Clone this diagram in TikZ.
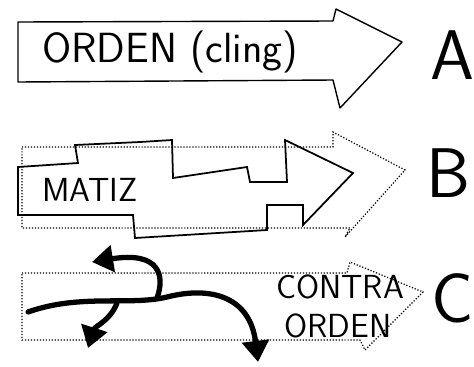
\documentclass[tikz,border=0pt]{standalone}
\usepackage{tikz}
\usetikzlibrary{positioning,arrows.meta}

\begin{document}
\begin{tikzpicture}[
    outlineArrow/.style={draw=black, line width=0.8pt, line join=round},
    ghostArrow/.style={draw=black, densely dotted, line width=0.7pt},
    jaggedArrow/.style={draw=black, line width=1pt},
    sketchText/.style={font=\sffamily, inner sep=0pt},
    rowLetter/.style={font=\sffamily\fontsize{40}{40}\selectfont, inner sep=0pt},
    thickArrow/.style={-{Triangle[length=12pt,width=15pt]}, line width=3pt, line cap=round}
]
    \useasboundingbox (0,0) rectangle (9.48,7.32);

    % row A
    \draw[outlineArrow] (0.36,6.88) -- (6.66,6.90) -- (6.72,7.14) -- (8.04,6.48)
        -- (6.80,5.16) -- (6.66,5.72) -- (0.36,5.68) -- cycle;
    \node[sketchText, font=\sffamily\fontsize{24}{24}\selectfont] (orderText) at (3.4,6.28) {ORDEN (cling)};
    \node[rowLetter] (letterA) at (9.05,6.22) {A};

    % row B
    \draw[ghostArrow] (0.44,4.38) -- (6.66,4.38) -- (6.66,4.68) -- (8.10,3.92)
        -- (6.90,2.58) -- (7.00,2.76) -- (0.44,2.76) -- cycle;
    \draw[jaggedArrow] (0.36,3.98) -- (0.36,3.02) -- (2.66,3.02) -- (2.70,2.56) -- (5.34,2.72)
        -- (5.34,3.22) -- (6.06,3.22) -- (6.06,2.82) -- (7.06,3.86) -- (5.70,4.52) -- (5.74,3.68)
        -- (5.00,3.68) -- (4.94,3.98) -- (3.46,3.76) -- (3.44,4.52) -- (2.80,4.48) -- (1.50,4.42)
        -- (1.56,4.06) -- cycle;
    \node[sketchText, font=\sffamily\fontsize{19}{19}\selectfont] (nuanceText) at (1.8,3.52) {MATIZ};
    \node[rowLetter] (letterB) at (8.96,3.86) {B};

    % row C
    \draw[ghostArrow] (0.44,1.86) -- (6.94,1.86) -- (7.00,2.08) -- (8.46,1.48)
        -- (7.30,0.32) -- (7.20,0.52) -- (0.44,0.52) -- cycle;
    \node[sketchText, font=\sffamily\fontsize{19}{19}\selectfont] (counterTop) at (6.8,1.58) {CONTRA};
    \node[sketchText, font=\sffamily\fontsize{19}{19}\selectfont] (counterBottom) at (6.76,0.8) {ORDEN};
    \node[rowLetter] (letterC) at (9.06,1.36) {C};

    \coordinate (crossStart) at (0.56,1.08);
    \coordinate (loopStart) at (3.14,1.36);
    \coordinate (forkStart) at (2.34,1.26);
    \coordinate (loopEnd) at (1.84,2.08);
    \coordinate (forkEnd) at (1.76,0.36);
    \coordinate (crossEnd) at (5.16,0.08);

    \draw[thickArrow] (crossStart) .. controls (1.6,1.45) and (2.6,1.2) .. (3.34,1.38)
        .. controls (4.2,1.6) and (5.0,1.4) .. (crossEnd);
    \draw[thickArrow] (loopStart) .. controls (3.3,1.8) and (3.2,2.3) .. (loopEnd);
    \draw[thickArrow] (forkStart) .. controls (2.2,0.9) and (1.9,0.8) .. (forkEnd);
\end{tikzpicture}
\end{document}
